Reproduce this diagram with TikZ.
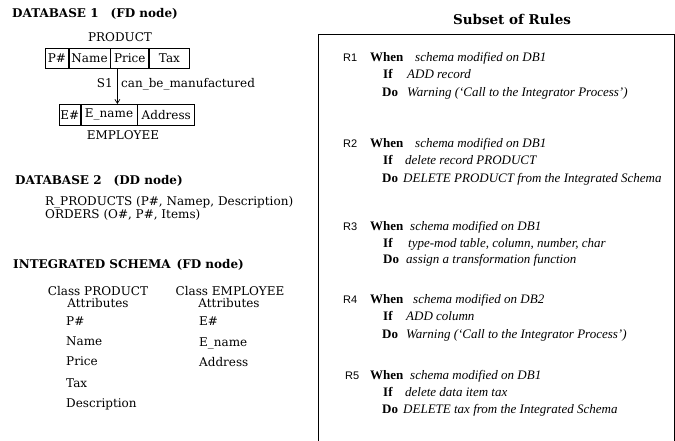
\documentclass[tikz,border=0pt]{standalone}
\usepackage{fontspec}
\setmainfont{DejaVu Serif}
\newfontfamily\rulesfont{Liberation Serif}
\newfontfamily\labelfont{Liberation Sans}
\usetikzlibrary{positioning,arrows.meta}
\begin{document}
\begin{tikzpicture}[x=1pt,y=-1pt,
    head/.style={font=\bfseries\fontsize{12}{14}\selectfont, anchor=mid west, inner sep=0pt},
    txt/.style={font=\fontsize{12}{14}\selectfont, anchor=mid west, inner sep=0pt},
    cell/.style={draw, font=\fontsize{12}{14}\selectfont, minimum height=20pt, inner sep=0pt, line width=0.7pt},
    rlab/.style={font=\labelfont\fontsize{11}{13}\selectfont, anchor=mid west, inner sep=0pt},
    kw/.style={font=\rulesfont\bfseries\fontsize{13}{15}\selectfont, anchor=mid west, inner sep=0pt},
    arg/.style={font=\rulesfont\itshape\fontsize{13}{15}\selectfont, anchor=mid west, inner sep=0pt}]

    \useasboundingbox (0,0) rectangle (675,441);

    % database 1
    \node[head] (db1) at (12,15) {DATABASE 1\quad (FD node)};
    \node[txt, anchor=mid] (product) at (120,39) {PRODUCT};
    \node[cell, minimum width=23pt, anchor=north west] (ppnum) at (45,48) {P\#};
    \node[cell, minimum width=41pt, right=0pt of ppnum] (pname) {Name};
    \node[cell, minimum width=38pt, right=0pt of pname] (pprice) {Price};
    \node[cell, minimum width=40pt, right=0pt of pprice] (ptax) {Tax};

    \node[cell, minimum width=21pt, minimum height=21pt, anchor=north west] (enum) at (59,104) {E\#};
    \node[cell, minimum width=56pt, minimum height=21pt, right=0pt of enum] (ename) {E\_name};
    \node[cell, minimum width=57pt, minimum height=21pt, right=0pt of ename] (eaddr) {Address};
    \node[txt, anchor=mid] (employee) at (123,137) {EMPLOYEE};

    \draw[-{Straight Barb[length=4pt,width=5pt]}, line width=0.7pt]
        ([xshift=7pt]pprice.south west) -- ([xshift=7pt]pprice.south west |- ename.north);
    \node[txt, anchor=mid east] (s1) at (113,85) {S1};
    \node[txt] (canbe) at (121,85) {can\_be\_manufactured};

    % database 2
    \node[head] (db2) at (15,182) {DATABASE 2\quad (DD node)};
    \node[txt] (rprod) at (45,203) {R\_PRODUCTS (P\#, Namep, Description)};
    \node[txt] (orders) at (45,216) {ORDERS (O\#, P\#, Items)};

    % integrated schema
    \node[head] (integ) at (13,266) {INTEGRATED SCHEMA\enspace (FD node)};
    \node[txt, anchor=mid] (cprod) at (98,293) {Class PRODUCT};
    \node[txt, anchor=mid] (cprodatt) at (98,305) {Attributes};
    \node[txt, anchor=mid] (cemp) at (230,293) {Class EMPLOYEE};
    \node[txt, anchor=mid] (cempatt) at (229,305) {Attributes};
    \node[txt] (ap1) at (66,323) {P\#};
    \node[txt] (ap2) at (66,343) {Name};
    \node[txt] (ap3) at (66,363) {Price};
    \node[txt] (ap4) at (66,385) {Tax};
    \node[txt] (ap5) at (66,405) {Description};
    \node[txt] (ae1) at (199,323) {E\#};
    \node[txt] (ae2) at (199,344) {E\_name};
    \node[txt] (ae3) at (199,364) {Address};

    % rules
    \node[head, anchor=mid, font=\bfseries\fontsize{13.5}{15}\selectfont] (rulestitle) at (512,22) {Subset of Rules};
    \draw[line width=0.8pt] (318,441) -- (318,34) -- (674,34) -- (674,441);

    \node[rlab] (r1) at (343,59) {R1};
    \node[kw] (r1when) at (370,59) {When};
    \node[arg] (r1cond) at (415,59) {schema modified on DB1};
    \node[kw] (r1if) at (383,76) {If};
    \node[arg] (r1ifarg) at (407,76) {ADD record};
    \node[kw] (r1do) at (382,94) {Do};
    \node[arg] (r1doarg) at (407,94) {Warning (‘Call to the Integrator Process’)};

    \node[rlab] (r2) at (343,145) {R2};
    \node[kw] (r2when) at (370,145) {When};
    \node[arg] (r2cond) at (415,145) {schema modified on DB1};
    \node[kw] (r2if) at (383,162) {If};
    \node[arg] (r2ifarg) at (405,162) {delete record PRODUCT};
    \node[kw] (r2do) at (382,180) {Do};
    \node[arg] (r2doarg) at (403,180) {DELETE PRODUCT from the Integrated Schema};

    \node[rlab] (r3) at (343,228) {R3};
    \node[kw] (r3when) at (370,228) {When};
    \node[arg] (r3cond) at (410,228) {schema modified on DB1};
    \node[kw] (r3if) at (383,245) {If};
    \node[arg] (r3ifarg) at (408,245) {type-mod table, column, number, char};
    \node[kw] (r3do) at (383,261) {Do};
    \node[arg] (r3doarg) at (406,261) {assign a transformation function};

    \node[rlab] (r4) at (343,301) {R4};
    \node[kw] (r4when) at (370,301) {When};
    \node[arg] (r4cond) at (413,301) {schema modified on DB2};
    \node[kw] (r4if) at (383,318) {If};
    \node[arg] (r4ifarg) at (406,318) {ADD column};
    \node[kw] (r4do) at (382,336) {Do};
    \node[arg] (r4doarg) at (406,336) {Warning (‘Call to the Integrator Process’)};

    \node[rlab] (r5) at (345,377) {R5};
    \node[kw] (r5when) at (370,377) {When};
    \node[arg] (r5cond) at (410,377) {schema modified on DB1};
    \node[kw] (r5if) at (383,394) {If};
    \node[arg] (r5ifarg) at (405,394) {delete data item tax};
    \node[kw] (r5do) at (382,411) {Do};
    \node[arg] (r5doarg) at (403,411) {DELETE tax from the Integrated Schema};
\end{tikzpicture}
\end{document}
